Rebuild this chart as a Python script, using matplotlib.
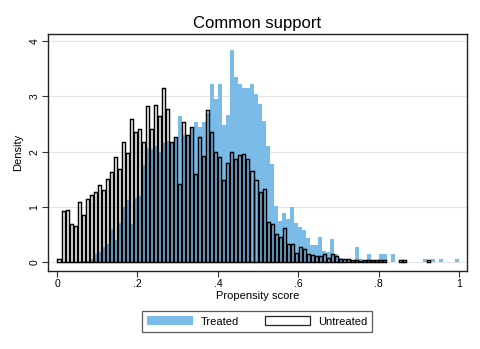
#!/usr/bin/env python3

#IMPORT PACKAGES
import numpy as np #ARRAYS
import matplotlib
matplotlib.use('Agg')
import matplotlib.pyplot as plt #PLOTTING
from matplotlib.patches import Patch #LEGEND KEYS

plt.rcParams['font.family'] = ['Liberation Sans', 'DejaVu Sans']

#HISTOGRAM BINS (WIDTH 0.01, LEFT EDGES FROM 0 TO 0.99)
bin_width = 0.01
bins = np.arange(100) * bin_width

#DENSITY OF PROPENSITY SCORE, TREATED GROUP
treated = [0, 0, 0, 0, 0, 0, 0.01, 0.02, 0.05, 0.15,
           0.19, 0.28, 0.33, 0.59, 0.40, 0.71, 1.00, 1.13, 0.68, 1.16,
           1.20, 1.75, 2.07, 2.05, 2.10, 2.00, 2.15, 2.20, 2.15, 2.25,
           2.65, 2.30, 2.30, 2.45, 2.54, 2.45, 2.54, 2.70, 3.22, 2.95,
           3.22, 2.48, 2.67, 3.84, 3.36, 3.22, 3.15, 3.15, 3.22, 3.04,
           2.87, 2.55, 2.10, 1.77, 1.01, 0.75, 0.89, 0.78, 1.00, 0.70,
           0.64, 0.58, 0.43, 0.31, 0.30, 0.45, 0.20, 0.18, 0.41, 0.14,
           0.08, 0.05, 0.05, 0.04, 0.27, 0.05, 0.04, 0.14, 0.04, 0.04,
           0.14, 0.14, 0, 0.14, 0, 0, 0, 0, 0, 0,
           0, 0.06, 0, 0.06, 0, 0.06, 0, 0, 0, 0.06]

#DENSITY OF PROPENSITY SCORE, UNTREATED GROUP
untreated = [0.06, 0.92, 0.95, 0.68, 0.65, 1.09, 0.85, 1.15, 1.22, 1.26,
             1.39, 1.30, 1.50, 1.63, 1.90, 1.69, 2.18, 1.97, 2.59, 2.35,
             2.41, 2.18, 2.82, 2.41, 2.85, 2.64, 3.15, 2.78, 2.18, 2.27,
             1.41, 2.54, 2.30, 2.44, 1.60, 2.27, 1.93, 2.75, 2.36, 2.00,
             1.90, 1.49, 1.79, 2.00, 1.86, 1.94, 1.96, 1.86, 1.65, 1.48,
             1.27, 1.32, 0.72, 0.69, 0.50, 0.45, 0.62, 0.33, 0.32, 0.16,
             0.27, 0.24, 0.15, 0.13, 0.10, 0.10, 0.15, 0.08, 0.15, 0.10,
             0.05, 0.06, 0.06, 0.03, 0.04, 0.02, 0.04, 0.04, 0.04, 0.04,
             0.04, 0.04, 0, 0, 0, 0.03, 0.03, 0, 0, 0,
             0, 0, 0.03, 0, 0, 0, 0, 0, 0, 0]

x_ticks = [0, 0.2, 0.4, 0.6, 0.8, 1]
x_labels = ['0', '.2', '.4', '.6', '.8', '1']
y_ticks = [0, 1, 2, 3, 4]

treated = np.array(treated)
untreated = np.array(untreated)

#FIGURE AND PLOT REGION
fig = plt.figure(figsize=(4.8, 3.49), dpi=100)
ax = fig.add_axes([0.1, 0.2235, 0.873, 0.679])

#TREATED BARS (FILLED) BEHIND UNTREATED BARS (OUTLINE ONLY)
m = treated > 0
ax.bar(bins[m], treated[m], width=bin_width, align='edge',
       color='#7bbbe8', linewidth=0, zorder=2)
m = untreated > 0
ax.bar(bins[m] + bin_width / 2, untreated[m], width=0.0076, align='center',
       facecolor='none', edgecolor='black', linewidth=1.05, zorder=3)

#AXES
ax.set_xlim(-0.0224, 1.0199)
ax.set_ylim(-0.163, 4.132)
ax.set_xticks(x_ticks)
ax.set_xticklabels(x_labels)
ax.set_yticks(y_ticks)
ax.set_yticklabels([str(v) for v in y_ticks], rotation=90, va='center')
ax.tick_params(labelsize=7.5, length=4, width=0.8, color='#333333', pad=2)
ax.grid(axis='y', color='#e4e4e4', linewidth=0.8, zorder=0)
ax.set_axisbelow(True)
for s in ax.spines.values():
    s.set_color('#222222')
    s.set_linewidth(1.0)

ax.set_xlabel('Propensity score', fontsize=8, labelpad=1)
ax.set_ylabel('Density', fontsize=8, labelpad=5)
ax.set_title('Common support', fontsize=12, pad=4)

#LEGEND BELOW THE PLOT
handles = [Patch(facecolor='#7bbbe8', edgecolor='none', label='Treated'),
           Patch(facecolor='white', edgecolor='#222222', linewidth=0.9, label='Untreated')]
leg = fig.legend(handles=handles, loc='center', bbox_to_anchor=(0.536, 0.079),
                 ncol=2, fontsize=8, frameon=True, fancybox=False,
                 handlelength=4.1, handleheight=0.9, handletextpad=0.7,
                 columnspacing=2.3, borderpad=0.45)
leg.get_frame().set_edgecolor('#333333')
leg.get_frame().set_linewidth(0.9)

#SAVE FIGURE
plt.savefig('out.png', dpi=100)
